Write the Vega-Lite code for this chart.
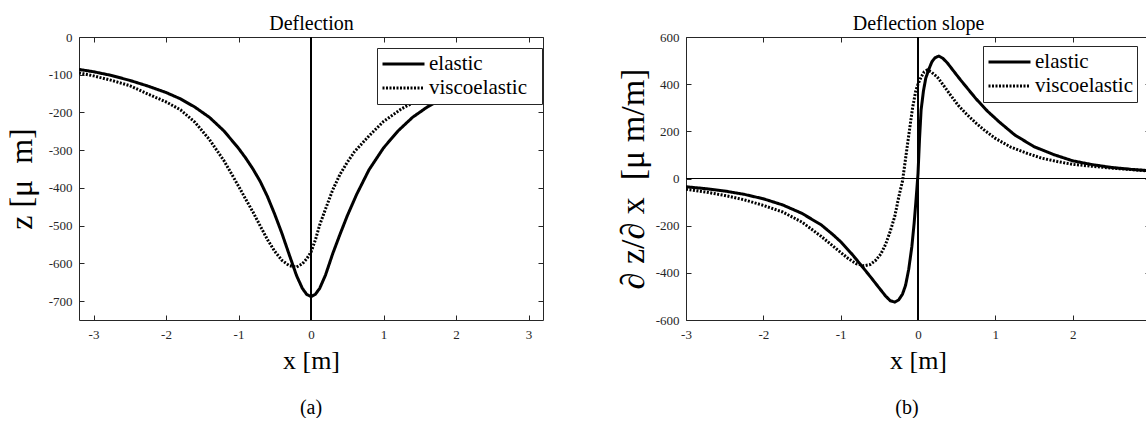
{
  "$schema": "https://vega.github.io/schema/vega-lite/v6.json",
  "padding": {"left": 5, "top": 13, "right": 0, "bottom": 0},
  "spacing": 70,
  "background": "white",
  "config": {
    "font": "Liberation Serif",
    "view": {"stroke": null},
    "axis": {
      "grid": false,
      "domainColor": "#262626",
      "domainWidth": 1,
      "tickColor": "#262626",
      "tickWidth": 1,
      "tickSize": -5,
      "labelFont": "Liberation Serif",
      "labelFontSize": 13,
      "labelColor": "#262626",
      "labelFlush": false,
      "labelOverlap": false,
      "titleFont": "Liberation Serif",
      "titleFontWeight": "normal",
      "titleColor": "black"
    },
    "legend": {
      "labelFont": "Liberation Serif",
      "labelFontSize": 21,
      "labelColor": "black",
      "symbolType": "stroke",
      "symbolSize": 1764,
      "symbolStrokeWidth": 3,
      "symbolStrokeColor": "black",
      "strokeColor": "#262626",
      "fillColor": "white",
      "padding": 4,
      "rowPadding": 0,
      "clipHeight": 24,
      "labelOffset": 3,
      "cornerRadius": 0
    },
    "title": {"font": "Liberation Serif", "fontWeight": "normal", "color": "black"}
  },
  "resolve": {"scale": {"strokeDash": "independent"}, "legend": {"strokeDash": "independent"}},
  "datasets": {
    "defl": [
      {"x": -3.2, "z": -86, "s": "elastic"}, {"x": -3.0, "z": -92, "s": "elastic"}, {"x": -2.75, "z": -102, "s": "elastic"}, {"x": -2.5, "z": -115, "s": "elastic"}, {"x": -2.25, "z": -130, "s": "elastic"}, {"x": -2.0, "z": -147, "s": "elastic"}, {"x": -1.8, "z": -164, "s": "elastic"}, {"x": -1.6, "z": -186, "s": "elastic"}, {"x": -1.4, "z": -213, "s": "elastic"}, {"x": -1.2, "z": -249, "s": "elastic"}, {"x": -1.0, "z": -295, "s": "elastic"}, {"x": -0.9, "z": -321, "s": "elastic"}, {"x": -0.8, "z": -350, "s": "elastic"}, {"x": -0.7, "z": -383, "s": "elastic"}, {"x": -0.6, "z": -423, "s": "elastic"}, {"x": -0.5, "z": -470, "s": "elastic"}, {"x": -0.4, "z": -521, "s": "elastic"}, {"x": -0.3, "z": -577, "s": "elastic"}, {"x": -0.2, "z": -632, "s": "elastic"}, {"x": -0.12, "z": -666, "s": "elastic"}, {"x": -0.06, "z": -682, "s": "elastic"}, {"x": 0, "z": -688, "s": "elastic"}, {"x": 0.06, "z": -682, "s": "elastic"}, {"x": 0.12, "z": -666, "s": "elastic"}, {"x": 0.2, "z": -631, "s": "elastic"}, {"x": 0.3, "z": -574, "s": "elastic"}, {"x": 0.4, "z": -523, "s": "elastic"}, {"x": 0.5, "z": -474, "s": "elastic"}, {"x": 0.63, "z": -417, "s": "elastic"}, {"x": 0.8, "z": -352, "s": "elastic"}, {"x": 1.0, "z": -294, "s": "elastic"}, {"x": 1.2, "z": -249, "s": "elastic"}, {"x": 1.4, "z": -213, "s": "elastic"}, {"x": 1.6, "z": -186, "s": "elastic"}, {"x": 1.8, "z": -165, "s": "elastic"}, {"x": 2.0, "z": -148, "s": "elastic"}, {"x": 2.25, "z": -131, "s": "elastic"}, {"x": 2.5, "z": -116, "s": "elastic"}, {"x": 2.75, "z": -103, "s": "elastic"}, {"x": 3.0, "z": -93, "s": "elastic"}, {"x": 3.2, "z": -87, "s": "elastic"},
      {"x": -3.2, "z": -95, "s": "viscoelastic"}, {"x": -3.0, "z": -103, "s": "viscoelastic"}, {"x": -2.75, "z": -115, "s": "viscoelastic"}, {"x": -2.5, "z": -129, "s": "viscoelastic"}, {"x": -2.25, "z": -151, "s": "viscoelastic"}, {"x": -2.0, "z": -172, "s": "viscoelastic"}, {"x": -1.8, "z": -193, "s": "viscoelastic"}, {"x": -1.6, "z": -226, "s": "viscoelastic"}, {"x": -1.4, "z": -272, "s": "viscoelastic"}, {"x": -1.2, "z": -328, "s": "viscoelastic"}, {"x": -1.0, "z": -395, "s": "viscoelastic"}, {"x": -0.9, "z": -430, "s": "viscoelastic"}, {"x": -0.8, "z": -464, "s": "viscoelastic"}, {"x": -0.7, "z": -501, "s": "viscoelastic"}, {"x": -0.6, "z": -537, "s": "viscoelastic"}, {"x": -0.5, "z": -568, "s": "viscoelastic"}, {"x": -0.4, "z": -592, "s": "viscoelastic"}, {"x": -0.3, "z": -606, "s": "viscoelastic"}, {"x": -0.2, "z": -610, "s": "viscoelastic"}, {"x": -0.12, "z": -601, "s": "viscoelastic"}, {"x": -0.06, "z": -588, "s": "viscoelastic"}, {"x": 0, "z": -570, "s": "viscoelastic"}, {"x": 0.06, "z": -538, "s": "viscoelastic"}, {"x": 0.12, "z": -498, "s": "viscoelastic"}, {"x": 0.2, "z": -456, "s": "viscoelastic"}, {"x": 0.3, "z": -405, "s": "viscoelastic"}, {"x": 0.4, "z": -364, "s": "viscoelastic"}, {"x": 0.5, "z": -332, "s": "viscoelastic"}, {"x": 0.6, "z": -304, "s": "viscoelastic"}, {"x": 0.8, "z": -262, "s": "viscoelastic"}, {"x": 1.0, "z": -224, "s": "viscoelastic"}, {"x": 1.25, "z": -190, "s": "viscoelastic"}, {"x": 1.5, "z": -165, "s": "viscoelastic"}, {"x": 1.75, "z": -143, "s": "viscoelastic"}, {"x": 2.0, "z": -124, "s": "viscoelastic"}, {"x": 2.25, "z": -108, "s": "viscoelastic"}, {"x": 2.5, "z": -96, "s": "viscoelastic"}, {"x": 2.75, "z": -85, "s": "viscoelastic"}, {"x": 3.0, "z": -75, "s": "viscoelastic"}, {"x": 3.2, "z": -69, "s": "viscoelastic"}
    ],
    "slope": [
      {"x": -3.0, "d": -35, "s": "elastic"}, {"x": -2.75, "d": -43, "s": "elastic"}, {"x": -2.5, "d": -53, "s": "elastic"}, {"x": -2.25, "d": -67, "s": "elastic"}, {"x": -2.0, "d": -86, "s": "elastic"}, {"x": -1.75, "d": -112, "s": "elastic"}, {"x": -1.5, "d": -148, "s": "elastic"}, {"x": -1.25, "d": -197, "s": "elastic"}, {"x": -1.1, "d": -238, "s": "elastic"}, {"x": -1.0, "d": -268, "s": "elastic"}, {"x": -0.85, "d": -322, "s": "elastic"}, {"x": -0.7, "d": -382, "s": "elastic"}, {"x": -0.6, "d": -423, "s": "elastic"}, {"x": -0.5, "d": -465, "s": "elastic"}, {"x": -0.42, "d": -498, "s": "elastic"}, {"x": -0.36, "d": -518, "s": "elastic"}, {"x": -0.3, "d": -524, "s": "elastic"}, {"x": -0.25, "d": -515, "s": "elastic"}, {"x": -0.2, "d": -490, "s": "elastic"}, {"x": -0.16, "d": -452, "s": "elastic"}, {"x": -0.12, "d": -385, "s": "elastic"}, {"x": -0.08, "d": -290, "s": "elastic"}, {"x": -0.05, "d": -190, "s": "elastic"}, {"x": -0.03, "d": -110, "s": "elastic"}, {"x": 0, "d": 20, "s": "elastic"}, {"x": 0.02, "d": 170, "s": "elastic"}, {"x": 0.04, "d": 290, "s": "elastic"}, {"x": 0.07, "d": 370, "s": "elastic"}, {"x": 0.1, "d": 425, "s": "elastic"}, {"x": 0.14, "d": 463, "s": "elastic"}, {"x": 0.18, "d": 495, "s": "elastic"}, {"x": 0.22, "d": 512, "s": "elastic"}, {"x": 0.27, "d": 519, "s": "elastic"}, {"x": 0.32, "d": 510, "s": "elastic"}, {"x": 0.38, "d": 490, "s": "elastic"}, {"x": 0.45, "d": 460, "s": "elastic"}, {"x": 0.55, "d": 418, "s": "elastic"}, {"x": 0.65, "d": 378, "s": "elastic"}, {"x": 0.75, "d": 338, "s": "elastic"}, {"x": 0.9, "d": 285, "s": "elastic"}, {"x": 1.05, "d": 240, "s": "elastic"}, {"x": 1.25, "d": 185, "s": "elastic"}, {"x": 1.5, "d": 135, "s": "elastic"}, {"x": 1.75, "d": 102, "s": "elastic"}, {"x": 2.0, "d": 75, "s": "elastic"}, {"x": 2.25, "d": 59, "s": "elastic"}, {"x": 2.5, "d": 47, "s": "elastic"}, {"x": 2.75, "d": 39, "s": "elastic"}, {"x": 3.0, "d": 33, "s": "elastic"},
      {"x": -3.0, "d": -46, "s": "viscoelastic"}, {"x": -2.75, "d": -57, "s": "viscoelastic"}, {"x": -2.5, "d": -72, "s": "viscoelastic"}, {"x": -2.25, "d": -90, "s": "viscoelastic"}, {"x": -2.0, "d": -114, "s": "viscoelastic"}, {"x": -1.75, "d": -142, "s": "viscoelastic"}, {"x": -1.5, "d": -185, "s": "viscoelastic"}, {"x": -1.25, "d": -246, "s": "viscoelastic"}, {"x": -1.05, "d": -300, "s": "viscoelastic"}, {"x": -0.9, "d": -340, "s": "viscoelastic"}, {"x": -0.8, "d": -361, "s": "viscoelastic"}, {"x": -0.7, "d": -370, "s": "viscoelastic"}, {"x": -0.62, "d": -365, "s": "viscoelastic"}, {"x": -0.55, "d": -348, "s": "viscoelastic"}, {"x": -0.48, "d": -320, "s": "viscoelastic"}, {"x": -0.42, "d": -280, "s": "viscoelastic"}, {"x": -0.36, "d": -225, "s": "viscoelastic"}, {"x": -0.3, "d": -160, "s": "viscoelastic"}, {"x": -0.25, "d": -80, "s": "viscoelastic"}, {"x": -0.2, "d": -10, "s": "viscoelastic"}, {"x": -0.15, "d": 110, "s": "viscoelastic"}, {"x": -0.11, "d": 206, "s": "viscoelastic"}, {"x": -0.07, "d": 300, "s": "viscoelastic"}, {"x": -0.03, "d": 370, "s": "viscoelastic"}, {"x": 0, "d": 400, "s": "viscoelastic"}, {"x": 0.04, "d": 430, "s": "viscoelastic"}, {"x": 0.08, "d": 452, "s": "viscoelastic"}, {"x": 0.12, "d": 460, "s": "viscoelastic"}, {"x": 0.17, "d": 452, "s": "viscoelastic"}, {"x": 0.25, "d": 430, "s": "viscoelastic"}, {"x": 0.33, "d": 395, "s": "viscoelastic"}, {"x": 0.42, "d": 354, "s": "viscoelastic"}, {"x": 0.52, "d": 310, "s": "viscoelastic"}, {"x": 0.63, "d": 272, "s": "viscoelastic"}, {"x": 0.75, "d": 235, "s": "viscoelastic"}, {"x": 0.85, "d": 207, "s": "viscoelastic"}, {"x": 1.0, "d": 170, "s": "viscoelastic"}, {"x": 1.2, "d": 133, "s": "viscoelastic"}, {"x": 1.4, "d": 108, "s": "viscoelastic"}, {"x": 1.6, "d": 86, "s": "viscoelastic"}, {"x": 1.8, "d": 72, "s": "viscoelastic"}, {"x": 2.0, "d": 60, "s": "viscoelastic"}, {"x": 2.25, "d": 52, "s": "viscoelastic"}, {"x": 2.5, "d": 44, "s": "viscoelastic"}, {"x": 2.75, "d": 38, "s": "viscoelastic"}, {"x": 3.0, "d": 31, "s": "viscoelastic"}
    ]
  },
  "hconcat": [
    {
      "width": 464,
      "height": 283,
      "title": {"text": "(a)", "orient": "bottom", "anchor": "middle", "frame": "group", "font": "Liberation Serif", "fontSize": 20, "offset": 25},
      "data": {"name": "defl"},
      "resolve": {"axis": {"x": "independent", "y": "independent"}},
      "layer": [
        {
          "mark": {"type": "line", "color": "black", "strokeWidth": 3, "strokeCap": "butt", "clip": true},
          "encoding": {
            "x": {"field": "x", "type": "quantitative", "scale": {"domain": [-3.2, 3.2], "nice": false, "zero": false},
                  "axis": {"orient": "bottom", "values": [-3, -2, -1, 0, 1, 2, 3], "labelExpr": "'' + datum.value", "labelFont": "Liberation Serif", "labelPadding": 13, "title": "x [m]", "titleFont": "Liberation Serif", "titleFontSize": 26, "titlePadding": 6}},
            "y": {"field": "z", "type": "quantitative", "scale": {"domain": [-750, 0], "nice": false, "zero": false},
                  "axis": {"orient": "left", "values": [0, -100, -200, -300, -400, -500, -600, -700], "labelExpr": "'' + datum.value", "labelFont": "Liberation Serif", "labelPadding": 12, "title": "z [μ\u00a0\u00a0m]", "titleFont": "Liberation Serif", "titleFontSize": 32, "titlePadding": 10}},
            "strokeDash": {"field": "s", "type": "nominal", "scale": {"domain": ["elastic", "viscoelastic"], "range": [[1, 0], [2, 1.5]]},
                  "legend": {"title": null, "orient": "none", "legendX": 298, "legendY": 11, "labelFont": "Liberation Serif", "labelExpr": "datum.label + '\u00a0\u00a0\u200b'"}}
          }
        },
        {
          "mark": {"type": "point", "opacity": 0},
          "encoding": {
            "x": {"field": "x", "type": "quantitative", "axis": {"orient": "top", "labels": false, "values": [-3, -2, -1, 0, 1, 2, 3], "title": "Deflection", "titleFont": "Liberation Serif", "titleFontSize": 20, "titleBaseline": "alphabetic", "titlePadding": 7}},
            "y": {"field": "z", "type": "quantitative", "axis": {"orient": "right", "labels": false, "values": [0, -100, -200, -300, -400, -500, -600, -700], "title": null}}
          }
        },
        {
          "data": {"values": [{"v": 0}]},
          "mark": {"type": "rule", "color": "black", "strokeWidth": 2},
          "encoding": {"x": {"field": "v", "type": "quantitative", "axis": null}}
        }
      ]
    },
    {
      "width": 464,
      "height": 283,
      "title": {"text": "(b)", "orient": "bottom", "anchor": "middle", "frame": "group", "font": "Liberation Serif", "fontSize": 20, "offset": 25, "dx": -11},
      "data": {"name": "slope"},
      "resolve": {"axis": {"x": "independent", "y": "independent"}},
      "layer": [
        {
          "data": {"values": [{"h": 0}]},
          "mark": {"type": "rule", "color": "black", "strokeWidth": 1},
          "encoding": {"y": {"field": "h", "type": "quantitative", "axis": null}}
        },
        {
          "mark": {"type": "line", "color": "black", "strokeWidth": 3, "strokeCap": "butt", "clip": true},
          "encoding": {
            "x": {"field": "x", "type": "quantitative", "scale": {"domain": [-3, 3], "nice": false, "zero": false},
                  "axis": {"orient": "bottom", "values": [-3, -2, -1, 0, 1, 2], "labelExpr": "'' + datum.value", "labelFont": "Liberation Serif", "labelPadding": 13, "title": "x [m]", "titleFont": "Liberation Serif", "titleFontSize": 26, "titlePadding": 6}},
            "y": {"field": "d", "type": "quantitative", "scale": {"domain": [-600, 600], "nice": false, "zero": false},
                  "axis": {"orient": "left", "values": [-600, -400, -200, 0, 200, 400, 600], "labelExpr": "'' + datum.value", "labelFont": "Liberation Serif", "labelPadding": 12, "title": "∂\u00a0z/∂\u00a0x\u00a0\u00a0[μ\u00a0m/m]", "titleFont": "Liberation Serif", "titleFontSize": 34, "titlePadding": 5}},
            "strokeDash": {"field": "s", "type": "nominal", "scale": {"domain": ["elastic", "viscoelastic"], "range": [[1, 0], [2, 1.5]]},
                  "legend": {"title": null, "orient": "none", "legendX": 297, "legendY": 9, "labelFont": "Liberation Serif"}}
          }
        },
        {
          "mark": {"type": "point", "opacity": 0},
          "encoding": {
            "x": {"field": "x", "type": "quantitative", "axis": {"orient": "top", "labels": false, "values": [-3, -2, -1, 0, 1, 2, 3], "title": "Deflection slope", "titleFont": "Liberation Serif", "titleFontSize": 20, "titleBaseline": "alphabetic", "titlePadding": 7}},
            "y": {"field": "d", "type": "quantitative", "axis": {"orient": "right", "labels": false, "values": [-600, -400, -200, 0, 200, 400, 600], "title": null}}
          }
        },
        {
          "data": {"values": [{"v": 0}]},
          "mark": {"type": "rule", "color": "black", "strokeWidth": 2},
          "encoding": {"x": {"field": "v", "type": "quantitative", "axis": null}}
        }
      ]
    }
  ]
}
